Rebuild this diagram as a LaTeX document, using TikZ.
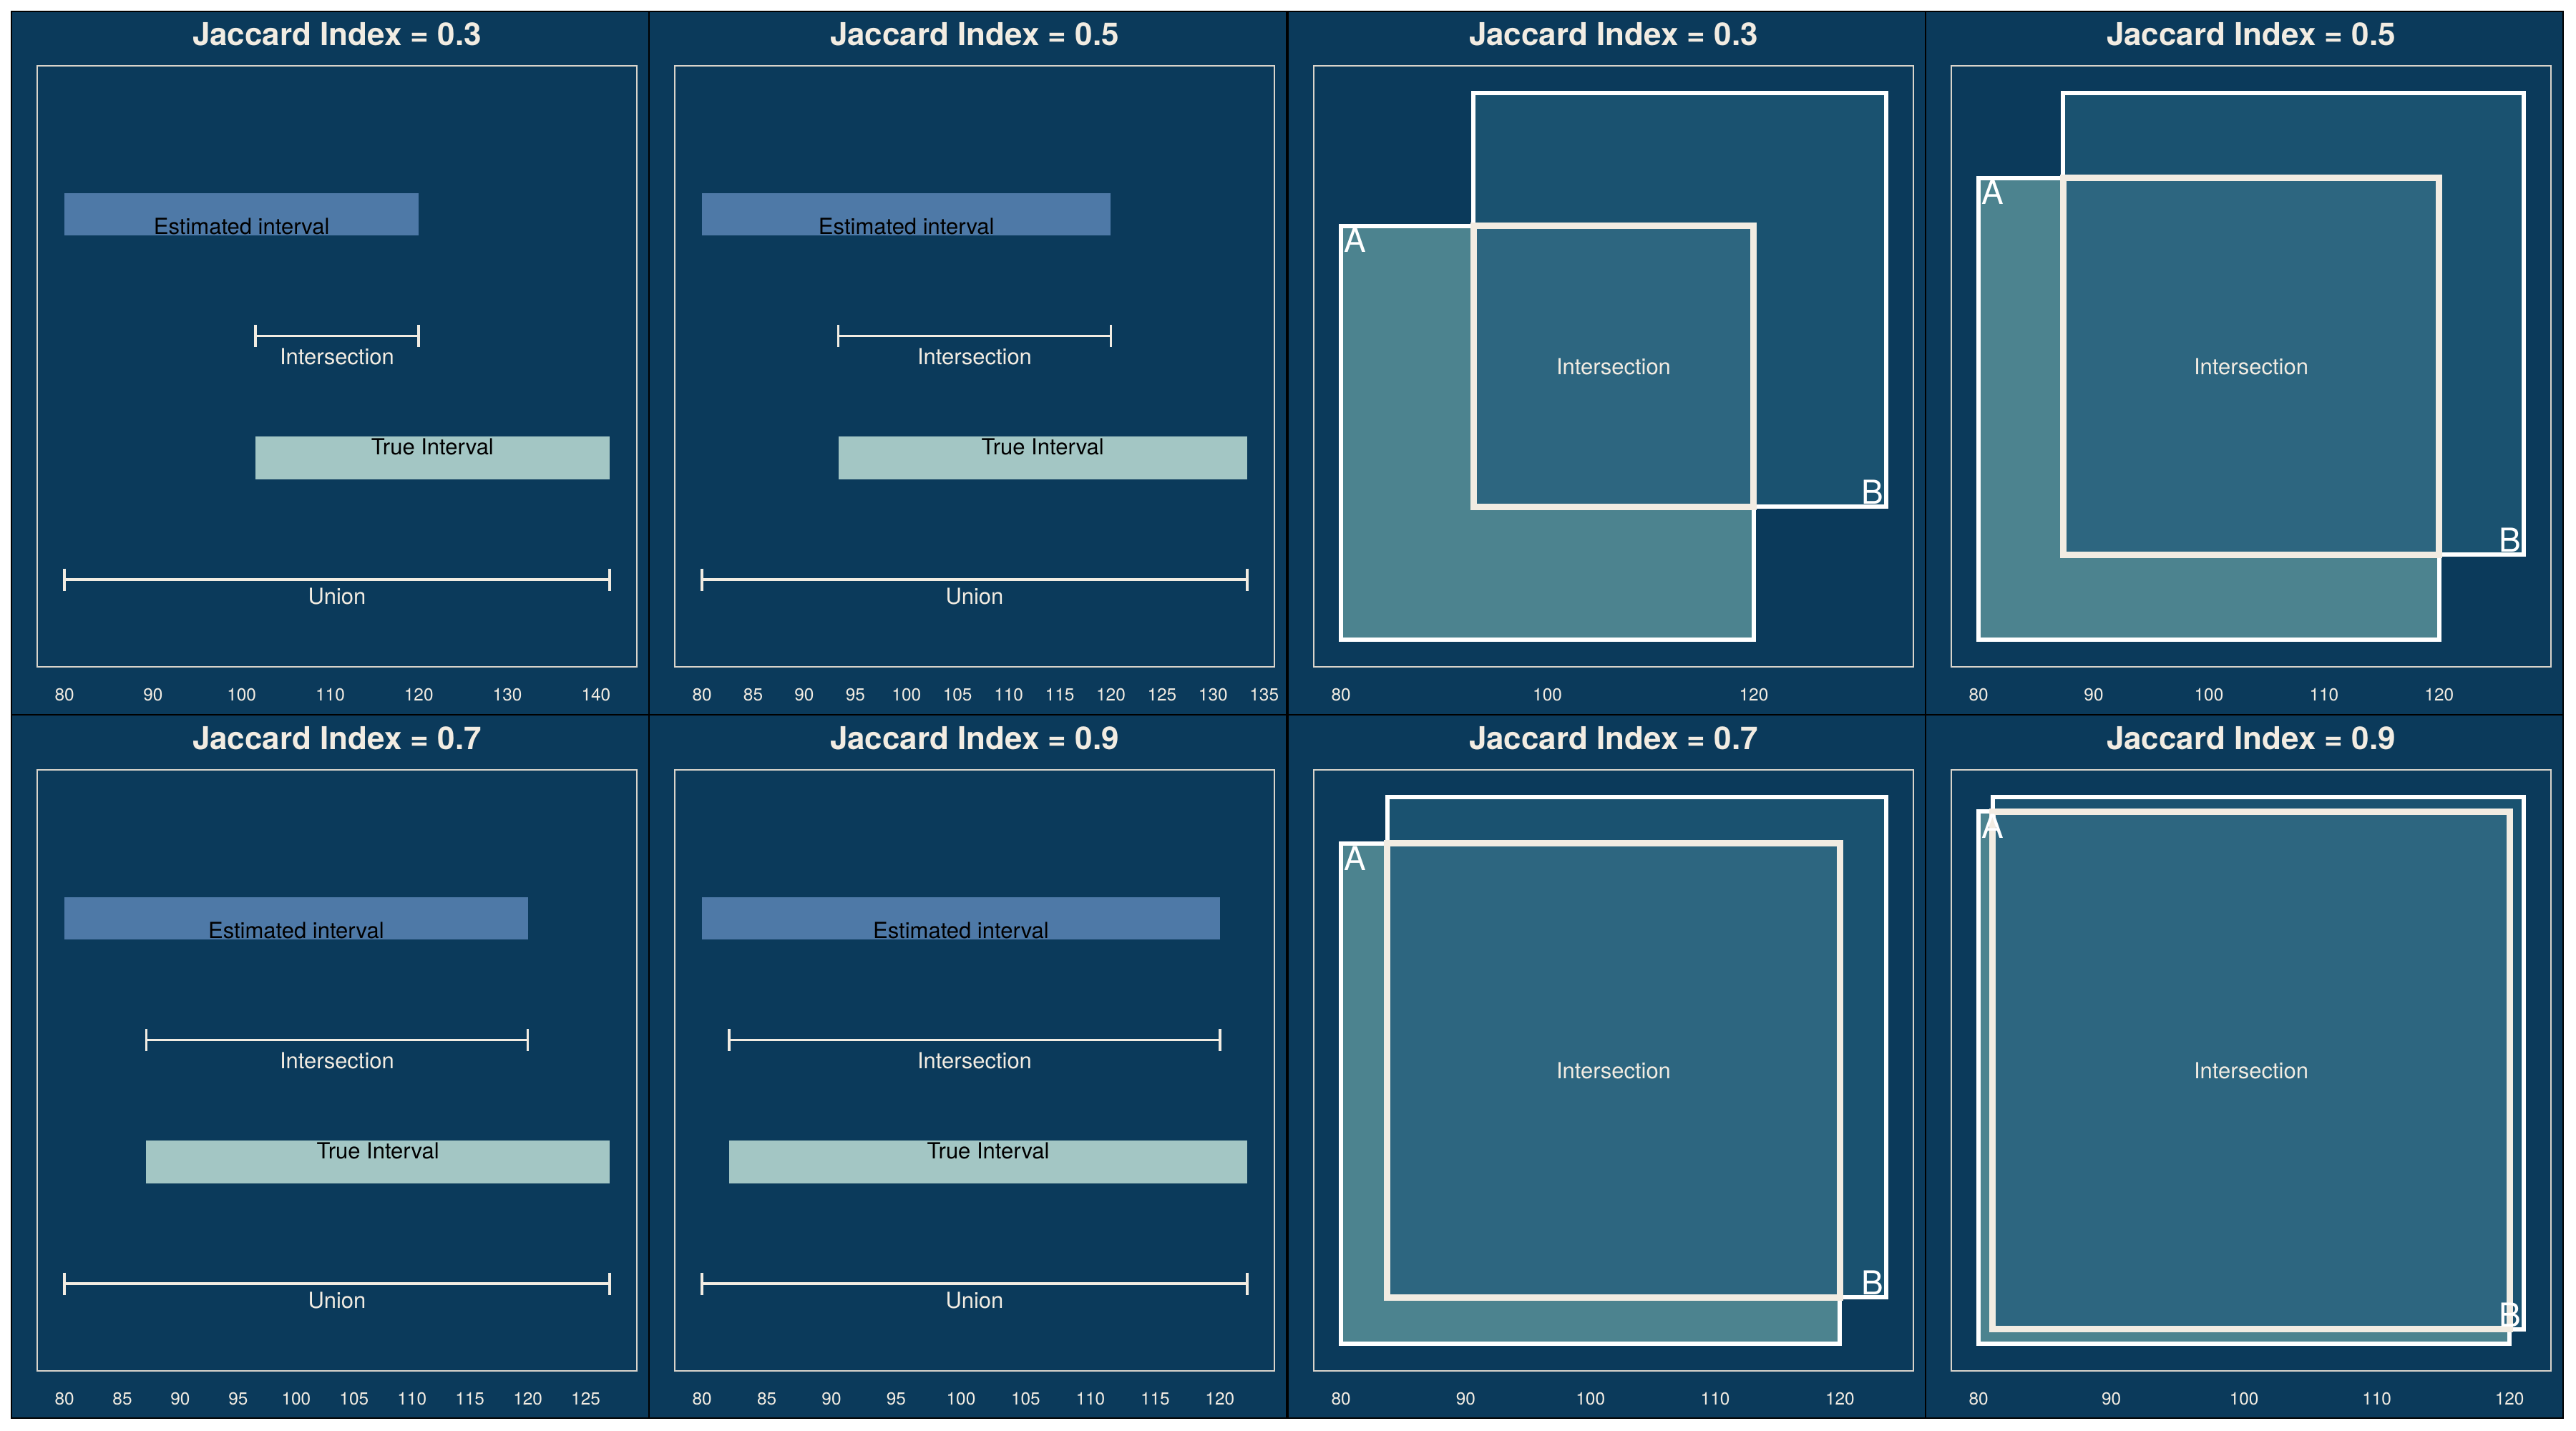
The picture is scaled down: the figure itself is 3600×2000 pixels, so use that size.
\documentclass[tikz,border=0pt]{standalone}
\usepackage{fontspec}
\setmainfont{TeX Gyre Heros}
\usetikzlibrary{calc}

\definecolor{panelbg}{HTML}{0B3A5B}
\definecolor{cream}{HTML}{F2ECE2}
\definecolor{frameline}{HTML}{D9D4CB}
\definecolor{estblue}{HTML}{4E79A7}
\definecolor{truegreen}{HTML}{A3C6C4}
\definecolor{setA}{HTML}{4C838F}
\definecolor{setB}{HTML}{1A5270}
\definecolor{setI}{HTML}{2D6680}

\tikzset{
  panelfill/.style={fill=panelbg, draw=black, line width=0.6pt},
  plotframe/.style={draw=frameline, line width=0.45pt},
  paneltitle/.style={text=cream, font=\fontsize{11}{13}\selectfont\bfseries, inner sep=0pt},
  barlabel/.style={text=black, font=\fontsize{7.75}{9}\selectfont, inner sep=0pt},
  spanlabel/.style={text=cream, font=\fontsize{7.75}{9}\selectfont, inner sep=0pt},
  axislabel/.style={text=cream, font=\fontsize{6.1}{7}\selectfont, inner sep=0pt},
  setlabel/.style={text=white, font=\fontsize{11.5}{13}\selectfont, inner sep=0pt},
  errbar/.style={draw=cream, line width=0.9pt},
  boxA/.style={fill=setA, draw=white, line width=1.5pt},
  boxB/.style={fill=setB, draw=white, line width=1.5pt},
  boxI/.style={fill=setI, draw=cream, line width=2.25pt},
}

% interval panel: #1,#2 panel corner, #3 plot-area top, #4 title,
% #5 shift of the true interval, #6 axis breaks, #7 name prefix
\newcommand{\IntervalPanel}[7]{%
  \pgfmathsetmacro{\ivL}{40+#5}%
  \pgfmathsetmacro{\ivxmin}{80-0.05*\ivL}%
  \pgfmathsetmacro{\ivk}{838/(1.1*\ivL)}%
  \pgfmathsetmacro{\ivx}{#1+36}%
  \pgfmathsetmacro{\ivxe}{#1+874}%
  \pgfmathsetmacro{\ivxa}{\ivx+(80-\ivxmin)*\ivk}%
  \pgfmathsetmacro{\ivxb}{\ivx+(120-\ivxmin)*\ivk}%
  \pgfmathsetmacro{\ivxc}{\ivx+(80+#5-\ivxmin)*\ivk}%
  \pgfmathsetmacro{\ivxd}{\ivx+(120+#5-\ivxmin)*\ivk}%
  \path[panelfill] (#1,#2) rectangle ++(891,983);
  \draw[plotframe] (\ivx,#3) rectangle (\ivxe,#3+840);
  \node[paneltitle] (#7-title) at ({(\ivx+\ivxe)/2},#3-44) {#4};
  % estimated interval
  \fill[estblue] (\ivxa,#3+178) rectangle (\ivxb,#3+237);
  \node[barlabel] (#7-est) at ({(\ivxa+\ivxb)/2},#3+224) {Estimated interval};
  % intersection
  \coordinate (#7-il) at (\ivxc,#3+377.5);
  \coordinate (#7-ir) at (\ivxb,#3+377.5);
  \draw[errbar] (#7-il) -- (#7-ir);
  \draw[errbar] ($(#7-il)+(0,-15.5)$) -- ($(#7-il)+(0,15.5)$);
  \draw[errbar] ($(#7-ir)+(0,-15.5)$) -- ($(#7-ir)+(0,15.5)$);
  \node[spanlabel] (#7-int) at ({(\ivxc+\ivxb)/2},#3+406) {Intersection};
  % true interval
  \fill[truegreen] (\ivxc,#3+518) rectangle (\ivxd,#3+578);
  \node[barlabel] (#7-true) at ({(\ivxc+\ivxd)/2},#3+532) {True Interval};
  % union
  \coordinate (#7-ul) at (\ivxa,#3+718);
  \coordinate (#7-ur) at (\ivxd,#3+718);
  \draw[errbar] (#7-ul) -- (#7-ur);
  \draw[errbar] ($(#7-ul)+(0,-15.5)$) -- ($(#7-ul)+(0,15.5)$);
  \draw[errbar] ($(#7-ur)+(0,-15.5)$) -- ($(#7-ur)+(0,15.5)$);
  \node[spanlabel] (#7-uni) at ({(\ivxa+\ivxd)/2},#3+741.5) {Union};
  % x axis
  \foreach \t in {#6}
    \node[axislabel] (#7-x\t) at ({\ivx+(\t-\ivxmin)*\ivk},#3+879) {\t};
}

% two-square panel: same arguments, #5 is the diagonal shift of B
\newcommand{\BoxPanel}[7]{%
  \pgfmathsetmacro{\bxL}{40+#5}%
  \pgfmathsetmacro{\bxmin}{80-0.05*\bxL}%
  \pgfmathsetmacro{\bxk}{838/(1.1*\bxL)}%
  \pgfmathsetmacro{\byk}{840/(1.1*\bxL)}%
  \pgfmathsetmacro{\bx}{#1+36}%
  \pgfmathsetmacro{\bxe}{#1+874}%
  \pgfmathsetmacro{\bxa}{\bx+(80-\bxmin)*\bxk}%
  \pgfmathsetmacro{\bxb}{\bx+(120-\bxmin)*\bxk}%
  \pgfmathsetmacro{\bxc}{\bx+(80+#5-\bxmin)*\bxk}%
  \pgfmathsetmacro{\bxd}{\bx+(120+#5-\bxmin)*\bxk}%
  \pgfmathsetmacro{\bya}{#3+840-(80-\bxmin)*\byk}%
  \pgfmathsetmacro{\byb}{#3+840-(120-\bxmin)*\byk}%
  \pgfmathsetmacro{\byc}{#3+840-(80+#5-\bxmin)*\byk}%
  \pgfmathsetmacro{\byd}{#3+840-(120+#5-\bxmin)*\byk}%
  \path[panelfill] (#1,#2) rectangle ++(891,983);
  \draw[plotframe] (\bx,#3) rectangle (\bxe,#3+840);
  \node[paneltitle] (#7-title) at ({(\bx+\bxe)/2},#3-44) {#4};
  \filldraw[boxA] (\bxa,\bya) rectangle (\bxb,\byb);
  \filldraw[boxB] (\bxc,\byc) rectangle (\bxd,\byd);
  \filldraw[boxI] (\bxc,\byc) rectangle (\bxb,\byb);
  \node[setlabel, anchor=north west] (#7-A) at (\bxa+4,\byb+3) {A};
  \node[setlabel, anchor=south east] (#7-B) at (\bxd-3,\byc-3) {B};
  \node[spanlabel] (#7-int) at ({(\bxc+\bxb)/2},{(\byc+\byb)/2}) {Intersection};
  \foreach \t in {#6}
    \node[axislabel] (#7-x\t) at ({\bx+(\t-\bxmin)*\bxk},#3+879) {\t};
}

\begin{document}
\begin{tikzpicture}[x=0.25pt,y=-0.25pt]
  \useasboundingbox (0,0) rectangle (3600,2000);
  \fill[white] (0,0) rectangle (3600,2000);

  % one-dimensional intervals
  \IntervalPanel{16}{16}{92}{Jaccard Index = 0.3}{21.5385}{80,90,...,140}{p1}
  \IntervalPanel{907}{16}{92}{Jaccard Index = 0.5}{13.3333}{80,85,...,135}{p2}
  \IntervalPanel{16}{999}{1076}{Jaccard Index = 0.7}{7.0588}{80,85,...,125}{p3}
  \IntervalPanel{907}{999}{1076}{Jaccard Index = 0.9}{2.1053}{80,85,...,120}{p4}

  % two-dimensional boxes
  \BoxPanel{1800}{16}{92}{Jaccard Index = 0.3}{12.8253}{80,100,120}{q1}
  \BoxPanel{2691}{16}{92}{Jaccard Index = 0.5}{7.3401}{80,90,...,120}{q2}
  \BoxPanel{1800}{999}{1076}{Jaccard Index = 0.7}{3.7006}{80,90,...,120}{q3}
  \BoxPanel{2691}{999}{1076}{Jaccard Index = 0.9}{1.0669}{80,90,...,120}{q4}
\end{tikzpicture}
\end{document}
